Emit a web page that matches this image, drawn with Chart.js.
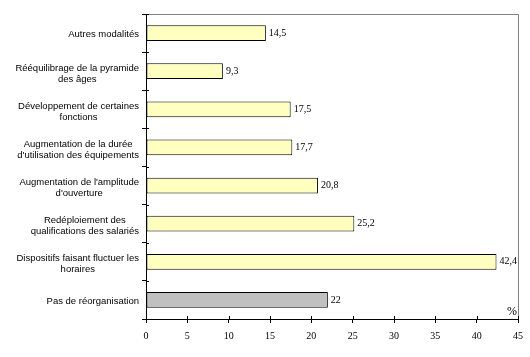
<!DOCTYPE html>
<html>
<head>
<meta charset="utf-8">
<script src="https://cdn.jsdelivr.net/npm/chart.js@4/dist/chart.umd.min.js"></script>
<style>
html,body{margin:0;padding:0;background:#fff;}
#wrap{width:530px;height:357px;position:relative;}
</style>
</head>
<body>
<div id="wrap"><canvas id="c" width="530" height="357"></canvas></div>
<script>
const categories = [
  ["Autres modalités"],
  ["Rééquilibrage de la pyramide", "des âges"],
  ["Développement de certaines", "fonctions"],
  ["Augmentation de la durée", "d'utilisation des équipements"],
  ["Augmentation de l'amplitude", "d'ouverture"],
  ["Redéploiement des", "qualifications des salariés"],
  ["Dispositifs faisant fluctuer les", "horaires"],
  ["Pas de réorganisation"]
];
const values = [14.5, 9.3, 17.5, 17.7, 20.8, 25.2, 42.4, 22];
const barColors = ["#FFFFC0","#FFFFC0","#FFFFC0","#FFFFC0","#FFFFC0","#FFFFC0","#FFFFC0","#C0C0C0"];
const xTicks = [0, 5, 10, 15, 20, 25, 30, 35, 40, 45];
const unitLabel = "%";

const CAT_FONT = "9.5px 'Liberation Sans', Arial, sans-serif";
const NUM_FONT = "10px 'Liberation Serif', 'Times New Roman', serif";

const decor = {
  id: 'decor',
  afterDraw(chart) {
    const ctx = chart.ctx;
    const a = chart.chartArea;
    const xs = chart.scales.x, ys = chart.scales.y;
    ctx.save();
    // top and right frame
    ctx.strokeStyle = '#808080';
    ctx.lineWidth = 1;
    ctx.beginPath();
    ctx.moveTo(a.left, Math.round(a.top) + 0.5);
    ctx.lineTo(Math.round(a.right) + 0.5, Math.round(a.top) + 0.5);
    ctx.lineTo(Math.round(a.right) + 0.5, a.bottom);
    ctx.stroke();
    // inner parts of crossing tick marks
    ctx.strokeStyle = '#000';
    ctx.beginPath();
    xTicks.forEach(v => {
      const px = Math.round(xs.getPixelForValue(v)) + 0.5;
      ctx.moveTo(px, a.bottom);
      ctx.lineTo(px, a.bottom - 3);
    });
    for (let i = 0; i <= categories.length; i++) {
      const py = Math.round(ys.getPixelForValue(i - 0.5)) + 0.5;
      ctx.moveTo(a.left, py);
      ctx.lineTo(a.left + 3, py);
    }
    ctx.stroke();
    // value labels
    ctx.fillStyle = '#000';
    ctx.font = NUM_FONT;
    ctx.textAlign = 'left';
    ctx.textBaseline = 'middle';
    const meta = chart.getDatasetMeta(0);
    meta.data.forEach((bar, i) => {
      const txt = String(values[i]).replace('.', ',');
      ctx.fillText(txt, bar.x + 3, bar.y);
    });
    // category labels
    ctx.font = CAT_FONT;
    ctx.textAlign = 'center';
    categories.forEach((lines, i) => {
      const cy = ys.getPixelForValue(i);
      const maxW = Math.max(...lines.map(l => ctx.measureText(l).width));
      const cx = 139 - maxW / 2;
      if (lines.length === 1) {
        ctx.fillText(lines[0], cx, cy + 1);
      } else {
        ctx.fillText(lines[0], cx, cy - 3);
        ctx.fillText(lines[1], cx, cy + 8);
      }
    });
    // unit label
    ctx.font = "12px 'Liberation Serif', 'Times New Roman', serif";
    ctx.textAlign = 'right';
    ctx.textBaseline = 'alphabetic';
    ctx.fillText(unitLabel, a.right - 1, a.bottom - 4);
    ctx.restore();
  }
};

new Chart(document.getElementById('c'), {
  type: 'bar',
  data: {
    labels: categories.map(l => l.join(' ')),
    datasets: [{
      data: values,
      backgroundColor: barColors,
      borderColor: '#000',
      borderWidth: 1,
      borderSkipped: false,
      categoryPercentage: 1,
      barPercentage: 0.41
    }]
  },
  options: {
    indexAxis: 'y',
    responsive: false,
    animation: false,
    devicePixelRatio: 1,
    layout: { padding: { top: 14, right: 12, left: 0, bottom: 0 } },
    plugins: { legend: { display: false }, tooltip: { enabled: false } },
    scales: {
      x: {
        type: 'linear',
        min: 0, max: 45,
        afterBuildTicks: s => { s.ticks = xTicks.map(v => ({ value: v })); },
        afterFit: s => { s.height = 38; },
        grid: { drawOnChartArea: false, tickLength: 4, color: '#000', tickColor: '#000' },
        border: { color: '#000', width: 1 },
        ticks: { color: '#000', font: { family: "'Liberation Serif', 'Times New Roman', serif", size: 10 }, padding: 7, maxRotation: 0 }
      },
      y: {
        type: 'category',
        offset: true,
        afterFit: s => { s.width = 146; },
        grid: { offset: true, drawOnChartArea: false, tickLength: 4, color: '#000', tickColor: '#000' },
        border: { color: '#000', width: 1 },
        ticks: { display: false }
      }
    }
  },
  plugins: [decor]
});
</script>
</body>
</html>
